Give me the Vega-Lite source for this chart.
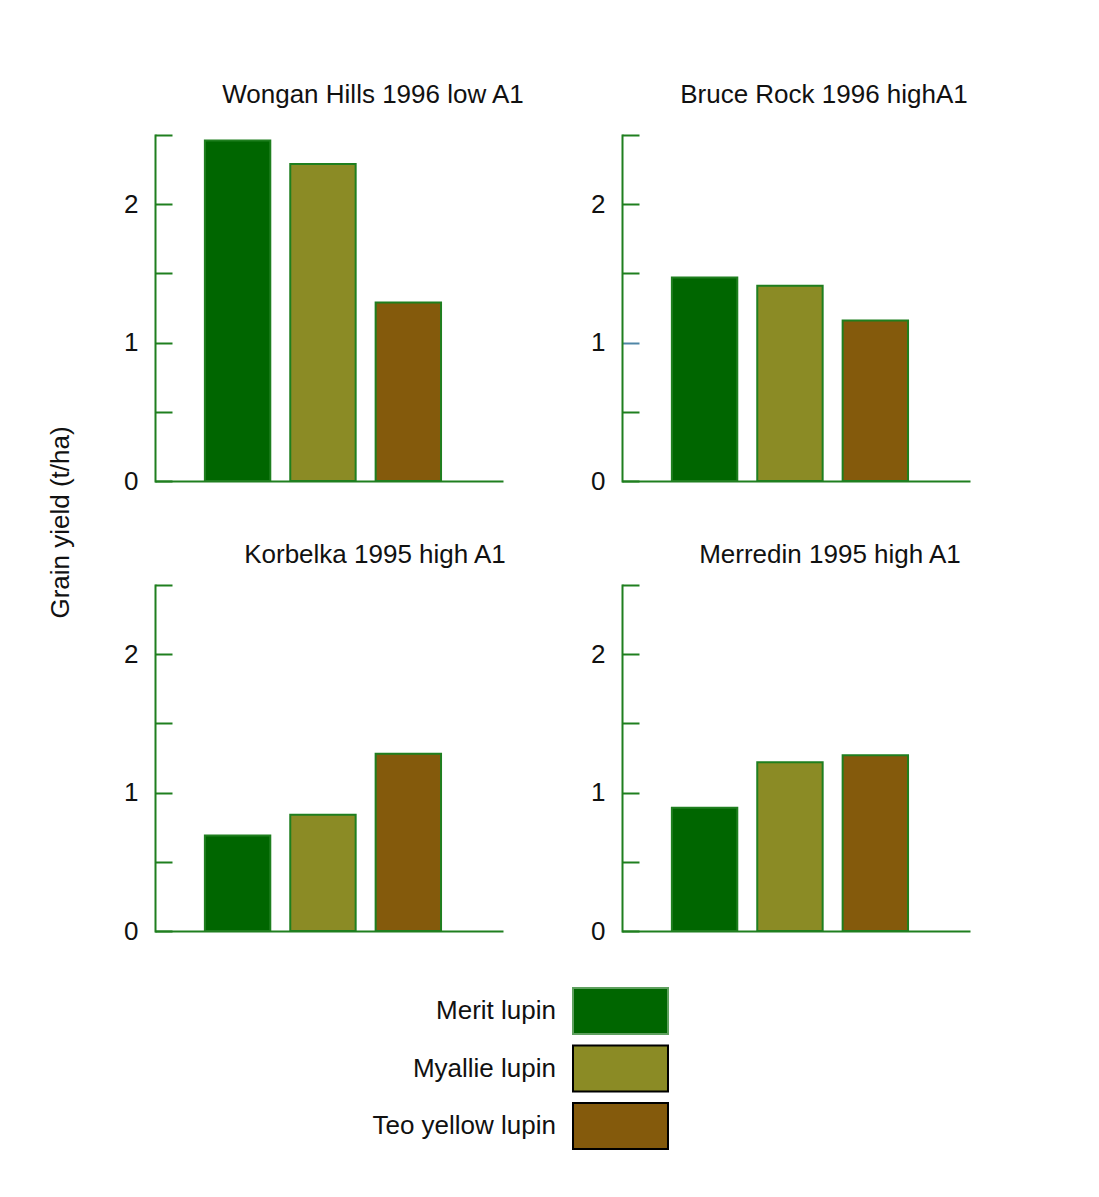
{
  "$schema": "https://vega.github.io/schema/vega-lite/v6.json",
  "background": "white",
  "padding": {"left": 47, "top": 82, "right": 120, "bottom": 40},
  "datasets": {
    "yields": [
      {"site": "Wongan Hills 1996 low A1", "variety": "Merit lupin", "yield": 2.46},
      {"site": "Wongan Hills 1996 low A1", "variety": "Myallie lupin", "yield": 2.29},
      {"site": "Wongan Hills 1996 low A1", "variety": "Teo yellow lupin", "yield": 1.29},
      {"site": "Bruce Rock 1996 highA1", "variety": "Merit lupin", "yield": 1.47},
      {"site": "Bruce Rock 1996 highA1", "variety": "Myallie lupin", "yield": 1.41},
      {"site": "Bruce Rock 1996 highA1", "variety": "Teo yellow lupin", "yield": 1.16},
      {"site": "Korbelka 1995 high A1", "variety": "Merit lupin", "yield": 0.69},
      {"site": "Korbelka 1995 high A1", "variety": "Myallie lupin", "yield": 0.84},
      {"site": "Korbelka 1995 high A1", "variety": "Teo yellow lupin", "yield": 1.28},
      {"site": "Merredin 1995 high A1", "variety": "Merit lupin", "yield": 0.89},
      {"site": "Merredin 1995 high A1", "variety": "Myallie lupin", "yield": 1.22},
      {"site": "Merredin 1995 high A1", "variety": "Teo yellow lupin", "yield": 1.27}
    ]
  },
  "data": {"name": "yields"},
  "title": {
    "text": "Grain yield (t/ha)",
    "orient": "left",
    "anchor": "middle",
    "frame": "bounds",
    "font": "Liberation Sans",
    "fontSize": 26,
    "fontWeight": "normal",
    "color": "#111111",
    "offset": 50,
    "dx": 95
  },
  "columns": 2,
  "bounds": "flush",
  "spacing": {"row": 104, "column": 119},
  "concat": [
    {
      "title": {"text": "Wongan Hills 1996 low A1", "anchor": "middle", "dx": 44, "offset": 26},
      "transform": [{"filter": "datum.site === 'Wongan Hills 1996 low A1'"}],
      "mark": {"type": "bar", "stroke": "#1f7f1f", "strokeWidth": 2},
      "width": 348, "height": 346,
      "encoding": {
        "x": {"field": "variety", "type": "nominal", "sort": null,
              "scale": {"paddingInner": 0.234, "paddingOuter": 0.655, "align": 0.446},
              "axis": {"title": null, "labels": false, "ticks": false}},
        "y": {"field": "yield", "type": "quantitative", "scale": {"domain": [0, 2.5], "nice": false},
              "axis": {"title": null, "values": [0, 0.5, 1, 1.5, 2, 2.5]}},
        "color": {"field": "variety", "type": "nominal", "sort": null,
                  "scale": {"domain": ["Merit lupin", "Myallie lupin", "Teo yellow lupin"], "range": ["#006600", "#8b8b25", "#845a0c"]},
                  "legend": {"encode": {"symbols": {"update": {"stroke": [{"test": "datum.value === 'Merit lupin'", "value": "#5fa05f"}, {"value": "#000000"}]}}}}}
      }
    },
    {
      "title": {"text": "Bruce Rock 1996 highA1", "anchor": "middle", "dx": 28, "offset": 26},
      "transform": [{"filter": "datum.site === 'Bruce Rock 1996 highA1'"}],
      "mark": {"type": "bar", "stroke": "#1f7f1f", "strokeWidth": 2},
      "width": 348, "height": 346,
      "encoding": {
        "x": {"field": "variety", "type": "nominal", "sort": null,
              "scale": {"paddingInner": 0.234, "paddingOuter": 0.655, "align": 0.446},
              "axis": {"title": null, "labels": false, "ticks": false}},
        "y": {"field": "yield", "type": "quantitative", "scale": {"domain": [0, 2.5], "nice": false},
              "axis": {"title": null, "values": [0, 0.5, 1, 1.5, 2, 2.5],
                       "tickColor": {"condition": {"test": "datum.value === 1", "value": "#4f86a6"}, "value": "#1f7f1f"}}},
        "color": {"field": "variety", "type": "nominal", "sort": null,
                  "scale": {"domain": ["Merit lupin", "Myallie lupin", "Teo yellow lupin"], "range": ["#006600", "#8b8b25", "#845a0c"]}}
      }
    },
    {
      "title": {"text": "Korbelka 1995 high A1", "anchor": "middle", "dx": 46, "offset": 16},
      "transform": [{"filter": "datum.site === 'Korbelka 1995 high A1'"}],
      "mark": {"type": "bar", "stroke": "#1f7f1f", "strokeWidth": 2},
      "width": 348, "height": 346,
      "encoding": {
        "x": {"field": "variety", "type": "nominal", "sort": null,
              "scale": {"paddingInner": 0.234, "paddingOuter": 0.655, "align": 0.446},
              "axis": {"title": null, "labels": false, "ticks": false}},
        "y": {"field": "yield", "type": "quantitative", "scale": {"domain": [0, 2.5], "nice": false},
              "axis": {"title": null, "values": [0, 0.5, 1, 1.5, 2, 2.5]}},
        "color": {"field": "variety", "type": "nominal", "sort": null,
                  "scale": {"domain": ["Merit lupin", "Myallie lupin", "Teo yellow lupin"], "range": ["#006600", "#8b8b25", "#845a0c"]}}
      }
    },
    {
      "title": {"text": "Merredin 1995 high A1", "anchor": "middle", "dx": 34, "offset": 16},
      "transform": [{"filter": "datum.site === 'Merredin 1995 high A1'"}],
      "mark": {"type": "bar", "stroke": "#1f7f1f", "strokeWidth": 2},
      "width": 348, "height": 346,
      "encoding": {
        "x": {"field": "variety", "type": "nominal", "sort": null,
              "scale": {"paddingInner": 0.234, "paddingOuter": 0.655, "align": 0.446},
              "axis": {"title": null, "labels": false, "ticks": false}},
        "y": {"field": "yield", "type": "quantitative", "scale": {"domain": [0, 2.5], "nice": false},
              "axis": {"title": null, "values": [0, 0.5, 1, 1.5, 2, 2.5]}},
        "color": {"field": "variety", "type": "nominal", "sort": null,
                  "scale": {"domain": ["Merit lupin", "Myallie lupin", "Teo yellow lupin"], "range": ["#006600", "#8b8b25", "#845a0c"]}}
      }
    }
  ],
  "resolve": {"scale": {"x": "independent", "y": "independent"}},
  "config": {
    "font": "Liberation Sans",
    "view": {"stroke": null},
    "title": {"font": "Liberation Sans", "fontSize": 26, "fontWeight": "normal", "color": "#111111"},
    "axis": {
      "domainColor": "#1f7f1f", "domainWidth": 2,
      "tickColor": "#1f7f1f", "tickWidth": 2,
      "grid": false,
      "labelFont": "Liberation Sans", "labelFontSize": 26, "labelColor": "#111111"
    },
    "axisY": {
      "labelExpr": "datum.value % 1 === 0 ? format(datum.value, 'd') : ''",
      "tickSize": -17,
      "labelPadding": 34,
      "domainCap": "square"
    },
    "legend": {
      "orient": "none",
      "legendX": 441.5,
      "legendY": 852,
      "title": null,
      "padding": 0,
      "symbolType": "M-2.065,-1H2.065V1H-2.065Z",
      "symbolSize": 2116,
      "symbolStrokeColor": "#000000",
      "symbolStrokeWidth": 2,
      "symbolOpacity": 1,
      "rowPadding": 3.5,
      "labelAlign": "right",
      "labelBaseline": "middle",
      "labelOffset": -88.5,
      "labelFont": "Liberation Sans",
      "labelFontSize": 26,
      "labelColor": "#111111",
      "labelLimit": 400
    }
  }
}
